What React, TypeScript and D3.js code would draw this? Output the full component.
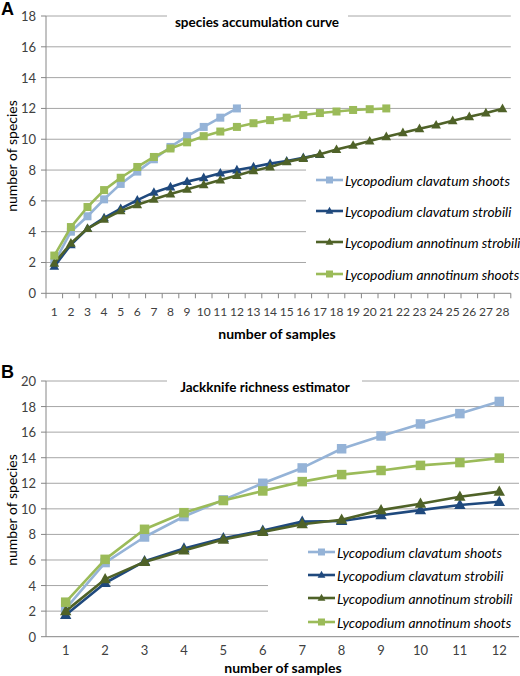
import React from "react";
import * as d3 from "d3";

// ---------- DATA ----------
const seriesNames = [
  "Lycopodium clavatum shoots",
  "Lycopodium clavatum strobili",
  "Lycopodium annotinum strobili",
  "Lycopodium annotinum shoots",
];
const seriesColors = ["#95B3D7", "#1F497D", "#4F6228", "#9BBB59"];
const seriesMarkers = ["square", "triangle", "triangle", "square"];

// Panel A: species accumulation curve
const samplesA = d3.range(1, 29);
const accClavatumShoots = [2.0, 4.0, 5.0, 6.1, 7.1, 7.9, 8.7, 9.5, 10.2, 10.8, 11.4, 12.0];
const accClavatumStrobili = [1.75, 3.15, 4.2, 4.9, 5.5, 6.05, 6.55, 6.9, 7.25, 7.5, 7.8, 8.0, 8.2, 8.42, 8.58, 8.8, 9.0];
const accAnnotinumStrobili = [1.95, 3.25, 4.2, 4.8, 5.35, 5.75, 6.1, 6.45, 6.75, 7.05, 7.35, 7.65, 7.95, 8.2, 8.53, 8.75, 9.03, 9.33, 9.6, 9.88, 10.16, 10.42, 10.68, 10.92, 11.2, 11.46, 11.7, 11.98];
const accAnnotinumShoots = [2.45, 4.3, 5.6, 6.7, 7.5, 8.2, 8.85, 9.4, 9.8, 10.2, 10.5, 10.8, 11.04, 11.24, 11.4, 11.57, 11.7, 11.8, 11.9, 11.95, 12.0];
const ticksA = d3.range(0, 19, 2);

// Panel B: Jackknife richness estimator
const samplesB = d3.range(1, 13);
const jackClavatumShoots = [2.2, 5.8, 7.8, 9.4, 10.7, 12.0, 13.2, 14.7, 15.7, 16.64, 17.45, 18.4];
const jackClavatumStrobili = [1.7, 4.2, 5.9, 6.9, 7.7, 8.3, 9.0, 9.05, 9.5, 9.9, 10.3, 10.55];
const jackAnnotinumStrobili = [2.0, 4.5, 5.85, 6.75, 7.6, 8.2, 8.8, 9.15, 9.9, 10.4, 10.95, 11.35];
const jackAnnotinumShoots = [2.7, 6.05, 8.4, 9.7, 10.65, 11.4, 12.13, 12.68, 13.0, 13.4, 13.62, 13.97];
const ticksB = d3.range(0, 21, 2);

const FONT = "Lato, 'Noto Sans', sans-serif";

type Box = { x: number; y: number; w: number; h: number };

interface ChartProps {
  letter: string;
  title: string;
  titleX: number;
  titleY: number;
  titleBox: Box;
  cats: number[];
  series: number[][];
  yMax: number;
  yTicks: number[];
  x0: number;
  x1: number;
  yTop: number;
  yBottom: number;
  letterY: number;
  yLabelY: number;
  xLabelX: number;
  xLabelY: number;
  legendBox: Box;
  legendLineX: number;
  legendYs: number[];
  xTickMarks: boolean;
  markerSize: number;
  tickLabelOffset: number;
  xTickFont: number;
}

function Marker({ kind, x, y, size, color }: { kind: string; x: number; y: number; size: number; color: string }) {
  if (kind === "square") {
    return <rect x={x - size / 2} y={y - size / 2} width={size} height={size} fill={color} />;
  }
  const s = size * 1.2;
  const h = s * 0.9;
  const p = `M${x},${y - h * 0.6} L${x + s / 2},${y + h * 0.4} L${x - s / 2},${y + h * 0.4} Z`;
  return <path d={p} fill={color} />;
}

function Chart(props: ChartProps) {
  const {
    letter, title, titleX, titleY, titleBox, cats, series, yMax, yTicks,
    x0, x1, yTop, yBottom, letterY, yLabelY, xLabelX, xLabelY,
    legendBox, legendLineX, legendYs, xTickMarks, markerSize, tickLabelOffset, xTickFont,
  } = props;
  const x = d3.scaleBand<number>().domain(cats).range([x0, x1]).padding(0);
  const cx = (c: number) => (x(c) as number) + x.bandwidth() / 2;
  const y = d3.scaleLinear().domain([0, yMax]).range([yBottom, yTop]);
  const line = d3.line<number>().x((_, i) => cx(cats[i])).y((v) => y(v));

  return (
    <g>
      {/* gridlines */}
      {yTicks.filter((t) => t > 0).map((t) => (
        <line key={t} x1={x0} x2={x1} y1={y(t)} y2={y(t)} stroke="#A6A6A6" strokeWidth={1} />
      ))}
      {/* series */}
      {series.map((vals, si) => (
        <g key={si}>
          <path d={line(vals) || ""} fill="none" stroke={seriesColors[si]} strokeWidth={2.6} strokeLinejoin="round" />
          {vals.map((v, i) => (
            <Marker key={i} kind={seriesMarkers[si]} x={cx(cats[i])} y={y(v)} size={markerSize} color={seriesColors[si]} />
          ))}
        </g>
      ))}
      {/* title box */}
      <rect x={titleBox.x} y={titleBox.y} width={titleBox.w} height={titleBox.h} fill="#fff" />
      <text x={titleX} y={titleY} textAnchor="middle" dominantBaseline="central" fontFamily={FONT} fontWeight="bold" fontSize={13.5} fill="#000">
        {title}
      </text>
      {/* legend */}
      <rect x={legendBox.x} y={legendBox.y} width={legendBox.w} height={legendBox.h} fill="#fff" />
      {seriesNames.map((n, i) => (
        <g key={n}>
          <line x1={legendLineX} x2={legendLineX + 27} y1={legendYs[i]} y2={legendYs[i]} stroke={seriesColors[i]} strokeWidth={2.6} />
          <Marker kind={seriesMarkers[i]} x={legendLineX + 13.5} y={legendYs[i]} size={seriesMarkers[i] === "square" ? 7 : 6.5} color={seriesColors[i]} />
          <text x={legendLineX + 29} y={legendYs[i]} dominantBaseline="central" fontFamily={FONT} fontStyle="italic" fontSize={13.8} fill="#000">
            {n}
          </text>
        </g>
      ))}
      {/* axes */}
      <line x1={x0} x2={x0} y1={yTop} y2={yBottom} stroke="#868686" strokeWidth={1} />
      <line x1={x0} x2={x1} y1={yBottom} y2={yBottom} stroke="#868686" strokeWidth={1} />
      {yTicks.map((t) => (
        <g key={t}>
          <line x1={x0 - 5} x2={x0} y1={y(t)} y2={y(t)} stroke="#868686" strokeWidth={1} />
          <text x={x0 - 10} y={y(t)} textAnchor="end" dominantBaseline="central" fontFamily={FONT} fontSize={13} fill="#404040">
            {t}
          </text>
        </g>
      ))}
      {xTickMarks &&
        [...cats.map((c) => x(c) as number), x1].map((xx, i) => (
          <line key={i} x1={xx} x2={xx} y1={yBottom} y2={yBottom + 5} stroke="#868686" strokeWidth={1} />
        ))}
      {cats.map((c) => (
        <text key={c} x={cx(c)} y={yBottom + tickLabelOffset} textAnchor="middle" dominantBaseline="central" fontFamily={FONT} fontSize={xTickFont} fill="#404040">
          {c}
        </text>
      ))}
      {/* axis titles */}
      <text transform={`translate(11,${yLabelY}) rotate(-90)`} textAnchor="middle" dominantBaseline="central" fontFamily={FONT} fontSize={14} fill="#000">
        number of species
      </text>
      <text x={xLabelX} y={xLabelY} textAnchor="middle" dominantBaseline="central" fontFamily={FONT} fontWeight="bold" fontSize={14} fill="#000">
        number of samples
      </text>
      {/* panel letter */}
      <text x={1} y={letterY} dominantBaseline="central" fontFamily="'Liberation Sans', Arial, sans-serif" fontWeight="bold" fontSize={18} fill="#000">
        {letter}
      </text>
    </g>
  );
}

export default function App() {
  return (
    <svg width={520} height={676} style={{ position: "absolute", left: 0, top: 0, background: "#fff" }}>
      <rect x={0} y={0} width={520} height={676} fill="#fff" />
      <Chart
        letter="A"
        title="species accumulation curve"
        titleX={257}
        titleY={22}
        titleBox={{ x: 167, y: 10, w: 181, h: 24 }}
        cats={samplesA}
        series={[accClavatumShoots, accClavatumStrobili, accAnnotinumStrobili, accAnnotinumShoots]}
        yMax={18}
        yTicks={ticksA}
        x0={46}
        x1={510.8}
        yTop={16}
        yBottom={293.3}
        letterY={9}
        yLabelY={156}
        xLabelX={277}
        xLabelY={333}
        legendBox={{ x: 306, y: 163, w: 214, h: 126 }}
        legendLineX={316}
        legendYs={[180, 211, 242, 274]}
        xTickMarks={true}
        markerSize={8}
        tickLabelOffset={18}
        xTickFont={12}
      />
      <Chart
        letter="B"
        title="Jackknife richness estimator"
        titleX={265}
        titleY={387}
        titleBox={{ x: 167, y: 374, w: 195, h: 26 }}
        cats={samplesB}
        series={[jackClavatumShoots, jackClavatumStrobili, jackAnnotinumStrobili, jackAnnotinumShoots]}
        yMax={20}
        yTicks={ticksB}
        x0={46}
        x1={519}
        yTop={381}
        yBottom={636.7}
        letterY={372}
        yLabelY={510}
        xLabelX={283}
        xLabelY={667}
        legendBox={{ x: 268, y: 540, w: 252, h: 92 }}
        legendLineX={308}
        legendYs={[552, 575, 598, 622]}
        xTickMarks={false}
        markerSize={9.5}
        tickLabelOffset={13}
        xTickFont={13}
      />
    </svg>
  );
}
